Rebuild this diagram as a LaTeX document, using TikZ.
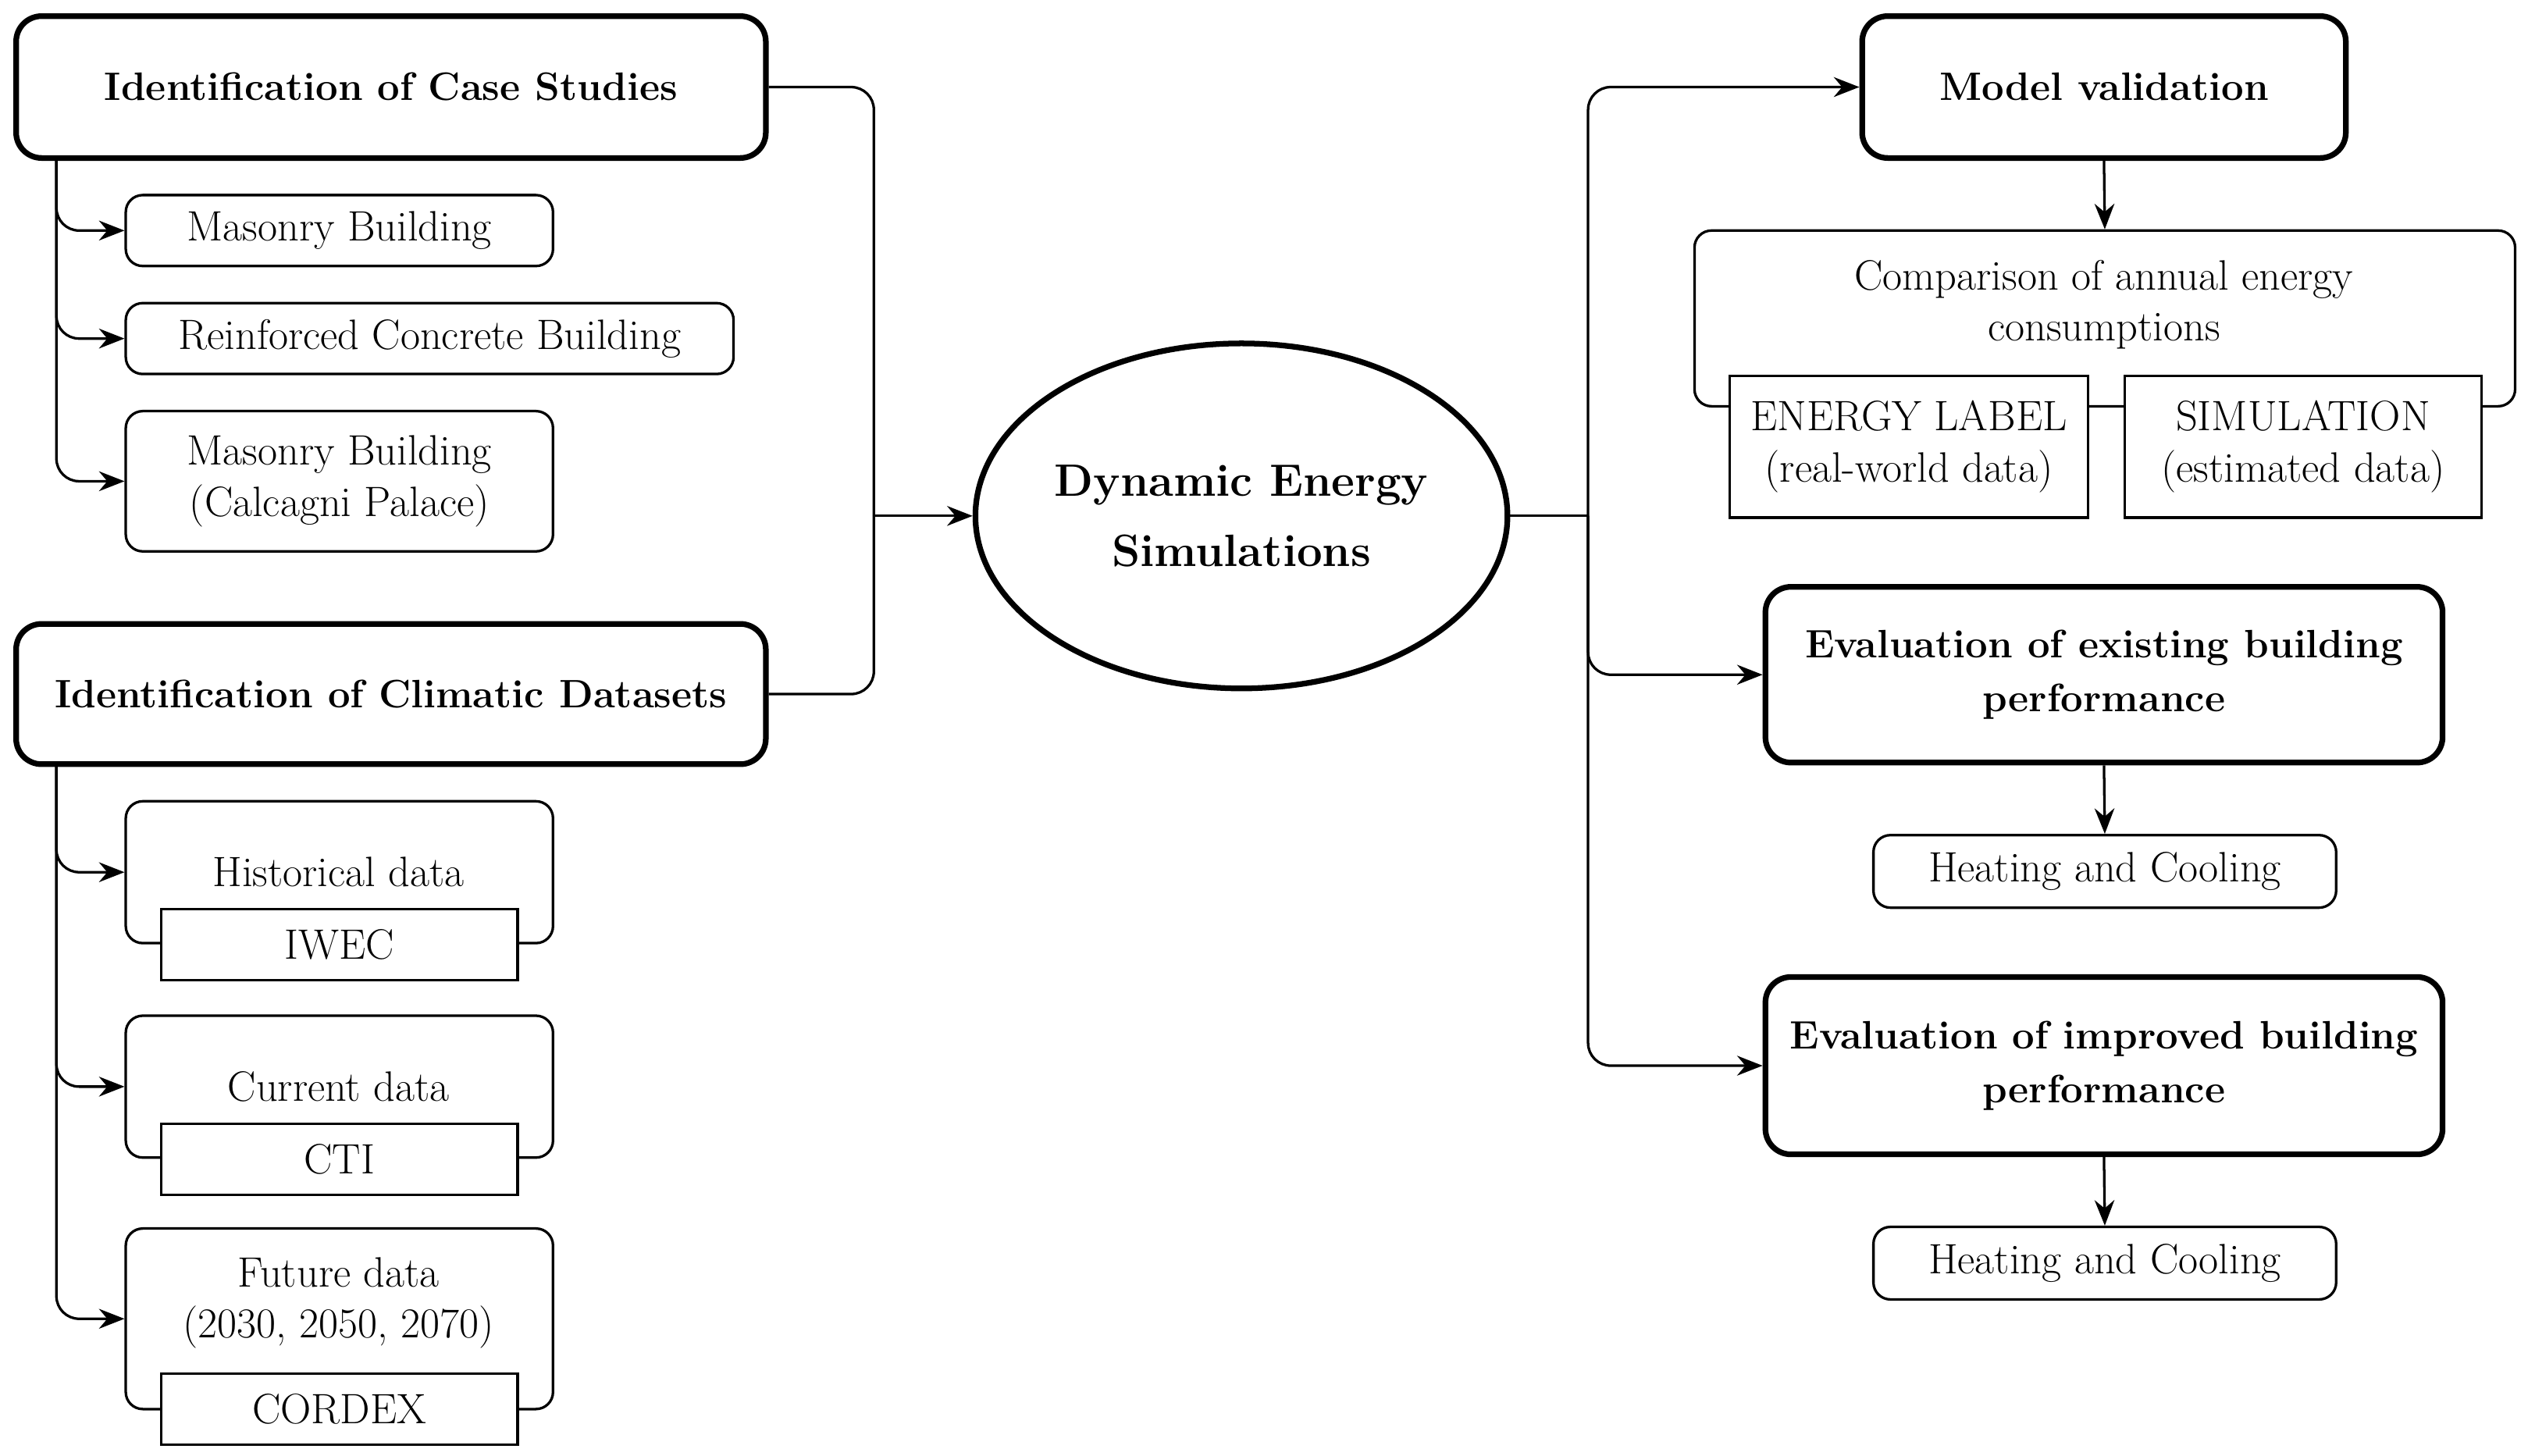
\documentclass[tikz,border=0pt]{standalone}
\usetikzlibrary{fit,arrows.meta,shapes.geometric}
\begin{document}
\begin{tikzpicture}[x=0.02cm,y=-0.02cm,
  font=\fontsize{15}{18}\selectfont,
  bx/.style={draw,line width=0.9pt,rounded corners=6pt,inner sep=0pt},
  bbx/.style={draw,line width=2pt,rounded corners=9pt,inner sep=0pt},
  sq/.style={draw,line width=0.9pt,fill=white,inner sep=0pt},
  tx/.style={align=center,inner sep=0pt},
  btx/.style={align=center,inner sep=0pt,font=\fontsize{14}{19}\selectfont\bfseries},
  ar/.style={-{Stealth[length=9pt,width=7pt]},line width=0.9pt,rounded corners=8pt},
  ln/.style={line width=0.9pt,rounded corners=8pt}]
\useasboundingbox (0,0) rectangle (1568,903);
% left
\node[bbx,fit={(10,10)(475,98)}] (cs) {};
\node[btx] (cst) at (cs.center) {Identification of Case Studies};
\node[bx,fit={(78,121)(343,165)}] (m1) {};
\node[tx] (m1t) at (m1.center) {Masonry Building};
\node[bx,fit={(78,188)(455,232)}] (rc) {};
\node[tx] (rct) at (rc.center) {Reinforced Concrete Building};
\node[bx,fit={(78,255)(343,342)}] (m2) {};
\node[tx] (m2t) at (m2.center) {Masonry Building\\(Calcagni Palace)};
\node[bbx,fit={(10,387)(475,474)}] (cd) {};
\node[btx] (cdt) at (cd.center) {Identification of Climatic Datasets};
\node[bx,fit={(78,497)(343,585)}] (hd) {};
\node[tx] (hdt) at (210,541) {Historical data};
\node[sq,fit={(100,564)(321,608)}] (iw) {};
\node[tx] (iwt) at (iw.center) {IWEC};
\node[bx,fit={(78,630)(343,718)}] (cu) {};
\node[tx] (cut) at (210,674) {Current data};
\node[sq,fit={(100,697)(321,741)}] (cti) {};
\node[tx] (ctit) at (cti.center) {CTI};
\node[bx,fit={(78,762)(343,874)}] (fu) {};
\node[tx] (fut) at (210,808) {Future data\\(2030, 2050, 2070)};
\node[sq,fit={(100,852)(321,896)}] (cor) {};
\node[tx] (cort) at (cor.center) {CORDEX};
\coordinate (c1) at (35,98);
\coordinate (c2) at (35,474);
\draw[ar] (c1) |- (m1.west);
\draw[ar] (c1) |- (rc.west);
\draw[ar] (c1) |- (m2.west);
\draw[ar] (c2) |- (hd.west);
\draw[ar] (c2) |- (cu.west);
\draw[ar] (c2) |- (fu.west);
% center
\node[draw,ellipse,line width=2pt,inner sep=0pt,minimum width=330*0.02cm,minimum height=214*0.02cm] (des) at (770,320) {};
\node[align=center,inner sep=0pt,font=\fontsize{16}{25}\selectfont\bfseries] (dest) at (des.center) {Dynamic Energy\\Simulations};
\coordinate (j1) at (542,320);
\draw[ln] (cs.east) -| (j1);
\draw[ln] (cd.east) -| (j1);
\draw[ar] (j1) -- (des.west);
% right
\node[bbx,fit={(1155,10)(1455,98)}] (mv) {};
\node[btx] (mvt) at (mv.center) {Model validation};
\node[bx,fit={(1051,143)(1560,252)}] (cmp) {};
\node[tx] (cmpt) at (1305,189) {Comparison of annual energy\\consumptions};
\node[sq,fit={(1073,233)(1295,321)}] (el) {};
\node[tx] (elt) at (el.center) {ENERGY LABEL\\(real-world data)};
\node[sq,fit={(1318,233)(1539,321)}] (si) {};
\node[tx] (sit) at (si.center) {SIMULATION\\(estimated data)};
\node[bbx,fit={(1095,364)(1515,473)}] (ee) {};
\node[btx] (eet) at (ee.center) {Evaluation of existing building\\performance};
\node[bx,fit={(1162,518)(1449,563)}] (h1) {};
\node[tx] (h1t) at (h1.center) {Heating and Cooling};
\node[bbx,fit={(1095,606)(1515,716)}] (ei) {};
\node[btx] (eit) at (ei.center) {Evaluation of improved building\\performance};
\node[bx,fit={(1162,761)(1449,806)}] (h2) {};
\node[tx] (h2t) at (h2.center) {Heating and Cooling};
\coordinate (j2) at (985,320);
\draw[ln] (des.east) -- (j2);
\draw[ar] (j2) |- (mv.west);
\draw[ar] (j2) |- (ee.west);
\draw[ar] (j2) |- (ei.west);
\draw[ar] (mv.south) -- (cmp.north);
\draw[ar] (ee.south) -- (h1.north);
\draw[ar] (ei.south) -- (h2.north);
\end{tikzpicture}
\end{document}
